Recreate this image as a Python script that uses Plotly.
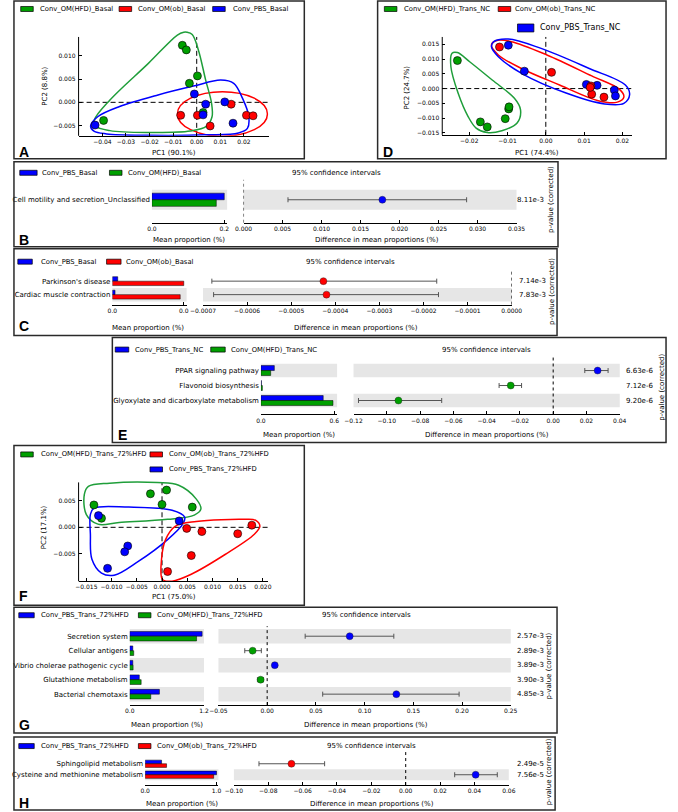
import plotly.graph_objects as go

W, H = 678, 812


def px(x):
    return x / W


def py(y):
    return 1 - y / H


BLUE = "#0000ff"
GREEN = "#00a000"
RED = "#ff0000"
BAND = "#e6e6e6"
FONT = "DejaVu Sans"
LETTER_FONT = "Liberation Sans"

# ---------------- data: panel A (PCA, Basal) ----------------
a_hfd_x = [-0.0061, -0.0044, 0.0003, -0.0031, 0.0027, -0.0395]
a_hfd_y = [0.0123, 0.0113, 0.0057, 0.0041, -0.0022, -0.0039]
a_ob_x = [-0.0068, 0.0003, 0.0057, 0.0146, 0.0211, 0.0239]
a_ob_y = [-0.0028, -0.0028, -0.0051, -0.0004, -0.0028, -0.0029]
a_pbs_x = [-0.0010, 0.0038, 0.0119, 0.0154, 0.0027, -0.0431]
a_pbs_y = [0.0018, -0.0004, 0.0001, -0.0045, -0.0027, -0.0049]
a_hfd_hull_x = [-0.0041, -0.0019, 0.0007, 0.0038, 0.0063, 0.0065, 0.0041, -0.0027, -0.0205,
                -0.0368, -0.0430, -0.0434, -0.0368, -0.0205, -0.0082, -0.0055, -0.0041]
a_hfd_hull_y = [0.0151, 0.0146, 0.0113, 0.0048, -0.0002, -0.0031, -0.0052, -0.0062, -0.0065,
                -0.0061, -0.0051, -0.0038, 0.0005, 0.0084, 0.0145, 0.0151, 0.0151]
a_pbs_hull_x = [-0.0450, -0.0420, -0.0327, -0.0164, -0.0014, 0.0102, 0.0157, 0.0194, 0.0221,
                0.0215, 0.0177, 0.0041, -0.0205, -0.0382, -0.0436, -0.0450]
a_pbs_hull_y = [-0.0051, -0.0031, -0.0009, 0.0016, 0.0035, 0.0048, 0.0041, 0.0009, -0.0031,
                -0.0056, -0.0066, -0.0070, -0.0071, -0.0068, -0.0062, -0.0051]
a_ob_ellipse = [-0.0082, 0.0300, -0.0073, 0.0023]  # x0, x1, y0, y1
a_xticks = [-0.04, -0.03, -0.02, -0.01, 0.00, 0.01, 0.02]
a_yticks = [-0.005, 0.000, 0.005, 0.010]

# ---------------- data: panel D (PCA, Trans_NC) ----------------
d_hfd_x = [-0.0231, -0.0171, -0.0153, -0.0106, -0.0097, -0.0096]
d_hfd_y = [0.0095, -0.0113, -0.0130, -0.0102, -0.0069, -0.0062]
d_pbs_x = [-0.0098, -0.0056, 0.0106, 0.0134, 0.0179, 0.0182]
d_pbs_y = [0.0147, 0.0059, 0.0014, 0.0011, -0.0005, -0.0025]
d_ob_x = [-0.0121, 0.0015, 0.0118, 0.0120, 0.0152, 0.0116]
d_ob_y = [0.0141, 0.0055, 0.0009, -0.0019, -0.0029, 0.0004]
d_hfd_hull_x = [-0.0245, -0.0231, -0.0199, -0.0140, -0.0082, -0.0066, -0.0075, -0.0115,
                -0.0153, -0.0182, -0.0203, -0.0229, -0.0248, -0.0245]
d_hfd_hull_y = [0.0120, 0.0122, 0.0091, 0.0029, -0.0033, -0.0072, -0.0117, -0.0143,
                -0.0149, -0.0134, -0.0095, -0.0016, 0.0074, 0.0120]
d_ob_hull_x = [-0.0142, -0.0128, -0.0090, 0.0003, 0.0120, 0.0192, 0.0204, 0.0187, 0.0137,
               0.0036, -0.0065, -0.0124, -0.0142]
d_ob_hull_y = [0.0148, 0.0163, 0.0159, 0.0114, 0.0043, -0.0002, -0.0029, -0.0046, -0.0041,
               0.0012, 0.0069, 0.0114, 0.0148]
d_pbs_hull_x = [-0.0136, -0.0098, -0.0014, 0.0112, 0.0208, 0.0219, 0.0204, 0.0154, 0.0053,
                -0.0061, -0.0124, -0.0142, -0.0136]
d_pbs_hull_y = [0.0159, 0.0168, 0.0137, 0.0069, 0.0012, -0.0021, -0.0050, -0.0052, -0.0015,
                0.0050, 0.0108, 0.0142, 0.0159]
d_xticks = [-0.02, -0.01, 0.00, 0.01, 0.02]
d_yticks = [-0.015, -0.010, -0.005, 0.000, 0.005, 0.010, 0.015]

# ---------------- data: panel F (PCA, Trans_72%HFD) ----------------
f_hfd_x = [-0.0135, -0.0120, -0.0023, 0.0009, 0.0000, 0.0060]
f_hfd_y = [0.0042, 0.0017, 0.0063, 0.0070, 0.0043, 0.0038]
f_ob_x = [0.0049, 0.0079, 0.0150, 0.0178, 0.0058, 0.0011]
f_ob_y = [-0.0002, -0.0008, -0.0012, 0.0004, -0.0053, -0.0083]
f_pbs_x = [-0.0126, 0.0034, -0.0068, -0.0074, -0.0108]
f_pbs_y = [0.0022, 0.0012, -0.0035, -0.0046, -0.0077]
f_hfd_hull_x = [-0.0146, -0.0104, -0.0009, 0.0033, 0.0068, 0.0077, 0.0064, 0.0011, -0.0085,
                -0.0127, -0.0150, -0.0154, -0.0146]
f_hfd_hull_y = [0.0077, 0.0083, 0.0084, 0.0079, 0.0053, 0.0034, 0.0023, 0.0015, 0.0009,
                0.0006, 0.0024, 0.0062, 0.0077]
f_pbs_hull_x = [-0.0135, -0.0066, 0.0020, 0.0045, 0.0041, 0.0011, -0.0047, -0.0095, -0.0120,
                -0.0139, -0.0142, -0.0142, -0.0135]
f_pbs_hull_y = [0.0036, 0.0038, 0.0032, 0.0019, 0.0006, -0.0023, -0.0064, -0.0090, -0.0086,
                -0.0060, -0.0013, 0.0024, 0.0036]
f_ob_hull_x = [0.0026, 0.0068, 0.0164, 0.0186, 0.0194, 0.0183, 0.0125, 0.0058, 0.0020,
               0.0001, -0.0001, 0.0007, 0.0026]
f_ob_hull_y = [0.0002, 0.0011, 0.0015, 0.0013, 0.0002, -0.0013, -0.0051, -0.0088, -0.0101,
               -0.0098, -0.0060, -0.0023, 0.0002]
f_xticks = [-0.015, -0.010, -0.005, 0.000, 0.005, 0.010, 0.015, 0.020]
f_yticks = [-0.005, 0.000, 0.005]

# ---------------- data: panel B ----------------
b_groups = ["Conv_PBS_Basal", "Conv_OM(HFD)_Basal"]
b_cats = ["Cell motility and secretion_Unclassified"]
b_g1 = [0.200]
b_g2 = [0.178]
b_diff = [0.0178]
b_lo = [0.0057]
b_hi = [0.0286]
b_p = ["8.11e-3"]
b_bar_ticks = [0.0, 0.2]
b_bar_ticktext = ["0.0", "0.2"]
b_ci_ticks = [0.000, 0.005, 0.010, 0.015, 0.020, 0.025, 0.030, 0.035]

# ---------------- data: panel C ----------------
c_groups = ["Conv_PBS_Basal", "Conv_OM(ob)_Basal"]
c_cats = ["Parkinson's disease", "Cardiac muscle contraction"]
c_g1 = [0.0030, 0.0015]
c_g2 = [0.0400, 0.0380]
c_diff = [-0.000427, -0.000420]
c_lo = [-0.000680, -0.000676]
c_hi = [-0.000170, -0.000166]
c_p = ["7.14e-3", "7.83e-3"]
c_bar_ticks = [0.0, 0.040]
c_bar_ticktext = ["0.0", "0.0"]
c_ci_ticks = [-0.0007, -0.0006, -0.0005, -0.0004, -0.0003, -0.0002, -0.0001, 0.0]

# ---------------- data: panel E ----------------
e_groups = ["Conv_PBS_Trans_NC", "Conv_OM(HFD)_Trans_NC"]
e_cats = ["PPAR signaling pathway", "Flavonoid biosynthesis",
          "Glyoxylate and dicarboxylate metabolism"]
e_g1 = [0.11, 0.004, 0.51]
e_g2 = [0.08, 0.012, 0.59]
e_diff = [0.0267, -0.0255, -0.093]
e_lo = [0.019, -0.0325, -0.117]
e_hi = [0.033, -0.019, -0.067]
e_p = ["6.63e-6", "7.12e-6", "9.20e-6"]
e_bar_ticks = [0.0, 0.6]
e_bar_ticktext = ["0.0", "0.6"]
e_ci_ticks = [-0.12, -0.10, -0.08, -0.06, -0.04, -0.02, 0.00, 0.02, 0.04]

# ---------------- data: panel G ----------------
g_groups = ["Conv_PBS_Trans_72%HFD", "Conv_OM(HFD)_Trans_72%HFD"]
g_cats = ["Secretion system", "Cellular antigens", "Vibrio cholerae pathogenic cycle",
          "Glutathione metabolism", "Bacterial chemotaxis"]
g_g1 = [1.17, 0.05, 0.05, 0.155, 0.48]
g_g2 = [1.08, 0.065, 0.055, 0.185, 0.34]
g_diff = [0.0847, -0.0149, 0.0078, -0.0067, 0.1326]
g_lo = [0.039, -0.023, 0.0055, -0.0100, 0.057]
g_hi = [0.130, -0.006, 0.0100, -0.0037, 0.197]
g_p = ["2.57e-3", "2.89e-3", "3.89e-3", "3.90e-3", "4.85e-3"]
g_bar_ticks = [0.0, 1.2]
g_bar_ticktext = ["0.0", "1.2"]
g_ci_ticks = [-0.05, 0.00, 0.05, 0.10, 0.15, 0.20, 0.25]

# ---------------- data: panel H ----------------
h_groups = ["Conv_PBS_Trans_72%HFD", "Conv_OM(ob)_Trans_72%HFD"]
h_cats = ["Sphingolipid metabolism", "Cysteine and methionine metabolism"]
h_g1 = [0.23, 1.00]
h_g2 = [0.30, 0.96]
h_diff = [-0.0665, 0.0407]
h_lo = [-0.0854, 0.0285]
h_hi = [-0.0472, 0.0533]
h_p = ["2.49e-5", "7.56e-5"]
h_bar_ticks = [0.0, 1.0]
h_bar_ticktext = ["0.0", "1.0"]
h_ci_ticks = [-0.10, -0.08, -0.06, -0.04, -0.02, 0.00, 0.02, 0.04, 0.06]

# ---------------- figure ----------------
fig = go.Figure()
lay = dict(width=W, height=H, margin=dict(l=0, r=0, t=0, b=0, pad=0),
           paper_bgcolor="white", plot_bgcolor="rgba(0,0,0,0)", showlegend=False,
           barmode="overlay", font=dict(family=FONT, size=7, color="black"))
shapes = []
ann = []


def axkey(n, k):
    return f"{k}axis" if n == 1 else f"{k}axis{n}"


def ref(n, k):
    return k if n == 1 else f"{k}{n}"


def text(t, x, y, size=7, xanchor="center", angle=0, bold=False, family=FONT):
    ann.append(dict(text=f"<b>{t}</b>" if bold else t, x=px(x), y=py(y), xref="paper",
                    yref="paper", xanchor=xanchor, yanchor="middle", showarrow=False,
                    textangle=angle, font=dict(size=size, family=family, color="black")))


def legend_item(xr, y, color, label, xt, w=13, h=5, size=6.8):
    shapes.append(dict(type="rect", xref="paper", yref="paper", x0=px(xr), x1=px(xr + w),
                       y0=py(y + h / 2), y1=py(y - h / 2), fillcolor=color,
                       line=dict(color="black", width=0.7)))
    text(label, xt, y, size=size, xanchor="left")


def frame(x0, y0, x1, y1):
    shapes.append(dict(type="rect", xref="paper", yref="paper", x0=px(x0), x1=px(x1),
                       y0=py(y1), y1=py(y0), line=dict(color="#2a2a2a", width=1.5),
                       fillcolor="rgba(0,0,0,0)"))


def tick_axis(**kw):
    base = dict(showgrid=False, zeroline=False, ticks="inside", ticklen=3, tickwidth=1,
                tickcolor="black", tickfont=dict(size=6, family=FONT), linecolor="black",
                linewidth=1)
    base.update(kw)
    return base


def pca_panel(n, xdom, ydom, xr, yr, xt, xfmt, yt, yfmt, spine_top, groups, hulls):
    lay[axkey(n, "x")] = tick_axis(domain=[px(xdom[0]), px(xdom[1])], range=xr,
                                   anchor=ref(n, "y"), showline=True, tickvals=xt,
                                   tickformat=xfmt)
    lay[axkey(n, "y")] = tick_axis(domain=[py(ydom[1]), py(ydom[0])], range=yr,
                                   anchor=ref(n, "x"), showline=False, tickvals=yt,
                                   tickformat=yfmt, ticklabelstandoff=2)
    shapes.append(dict(type="line", xref="paper", yref="paper", x0=px(xdom[0]),
                       x1=px(xdom[0]), y0=py(spine_top), y1=py(ydom[1]),
                       line=dict(color="black", width=1)))
    frac = (ydom[1] - spine_top) / (ydom[1] - ydom[0])
    shapes.append(dict(type="line", xref=ref(n, "x"), yref=ref(n, "y") + " domain",
                       x0=0, x1=0, y0=0, y1=frac, layer="below",
                       line=dict(color="black", width=1, dash="5px,3px")))
    shapes.append(dict(type="line", xref=ref(n, "x") + " domain", yref=ref(n, "y"),
                       x0=0, x1=1, y0=0, y1=0, layer="below",
                       line=dict(color="black", width=1, dash="5px,3px")))
    for hx, hy, col in hulls:
        fig.add_trace(go.Scatter(x=hx, y=hy, mode="lines", hoverinfo="skip",
                                 line=dict(color=col, width=1.5, shape="spline", smoothing=1),
                                 xaxis=ref(n, "x"), yaxis=ref(n, "y")))
    for gx, gy, col in groups:
        fig.add_trace(go.Scatter(x=gx, y=gy, mode="markers", hoverinfo="skip",
                                 marker=dict(size=8, color=col,
                                             line=dict(color="black", width=0.6)),
                                 xaxis=ref(n, "x"), yaxis=ref(n, "y")))


def bar_panel(nb, nc, cats, g1, g2, c1, c2, diff, lo, hi, pvals, bar_xdom, ci_xdom, ydom,
              row0, row_h, bar_range, bar_ticks, bar_ticktext, ci_range, ci_ticks, ci_fmt,
              pval_x, band_half=0.5):
    rows = list(range(len(cats)))
    yr = [(ydom[1] - row0) / row_h, (ydom[0] - row0) / row_h]
    ydomain = [py(ydom[1]), py(ydom[0])]
    lay[axkey(nb, "x")] = tick_axis(domain=[px(bar_xdom[0]), px(bar_xdom[1])],
                                    range=bar_range, anchor=ref(nb, "y"), showline=True,
                                    tickvals=bar_ticks, ticktext=bar_ticktext)
    lay[axkey(nb, "y")] = dict(domain=ydomain, range=yr, anchor=ref(nb, "x"),
                               showline=False, showgrid=False, zeroline=False, ticks="",
                               tickvals=rows, ticktext=cats,
                               tickfont=dict(size=7, family=FONT), ticklabelstandoff=1)
    lay[axkey(nc, "x")] = tick_axis(domain=[px(ci_xdom[0]), px(ci_xdom[1])],
                                    range=ci_range, anchor=ref(nc, "y"), showline=True,
                                    tickvals=ci_ticks, tickformat=ci_fmt)
    lay[axkey(nc, "y")] = dict(domain=ydomain, range=yr, anchor=ref(nc, "x"),
                               showline=False, showgrid=False, zeroline=False, ticks="",
                               showticklabels=False)
    n = len(cats)
    for i in rows:
        if (n - 1 - i) % 2 == 0:
            for a in (nb, nc):
                shapes.append(dict(type="rect", xref=ref(a, "x") + " domain",
                                   yref=ref(a, "y"), x0=0, x1=1, y0=i - band_half,
                                   y1=i + band_half, fillcolor=BAND, line=dict(width=0),
                                   layer="below"))
    shapes.append(dict(type="line", xref=ref(nc, "x"), yref=ref(nc, "y") + " domain",
                       x0=0, x1=0, y0=0, y1=1, layer="below",
                       line=dict(color="black", width=1, dash="3px,3px")))
    fig.add_trace(go.Bar(x=g1, y=rows, orientation="h", width=0.33, offset=-0.33,
                         marker=dict(color=c1, line=dict(color="black", width=0.5)),
                         xaxis=ref(nb, "x"), yaxis=ref(nb, "y"), hoverinfo="skip"))
    fig.add_trace(go.Bar(x=g2, y=rows, orientation="h", width=0.33, offset=0.0,
                         marker=dict(color=c2, line=dict(color="black", width=0.5)),
                         xaxis=ref(nb, "x"), yaxis=ref(nb, "y"), hoverinfo="skip"))
    cols = [c1 if d > 0 else c2 for d in diff]
    fig.add_trace(go.Scatter(
        x=diff, y=rows, mode="markers", hoverinfo="skip",
        marker=dict(size=7, color=cols, line=dict(color="#202020", width=0.4)),
        error_x=dict(type="data", symmetric=False,
                     array=[h - d for h, d in zip(hi, diff)],
                     arrayminus=[d - l for d, l in zip(diff, lo)],
                     color="#555555", thickness=1, width=2.5),
        xaxis=ref(nc, "x"), yaxis=ref(nc, "y")))
    for i, p in zip(rows, pvals):
        ann.append(dict(text=p, x=px(pval_x), y=i, xref="paper", yref=ref(nc, "y"),
                        xanchor="left", yanchor="middle", showarrow=False,
                        font=dict(size=7, family=FONT, color="black")))


# ---- PCA panels ----
pca_panel(1, (68, 265), (28, 136), [-0.0501, 0.0305], [-0.00722, 0.01603],
          a_xticks, ".2f", a_yticks, ".3f", 37,
          [(a_hfd_x, a_hfd_y, GREEN), (a_ob_x, a_ob_y, RED), (a_pbs_x, a_pbs_y, BLUE)],
          [(a_hfd_hull_x, a_hfd_hull_y, "#1f9e3a"), (a_pbs_hull_x, a_pbs_hull_y, BLUE)])
shapes.append(dict(type="circle", xref="x", yref="y", x0=a_ob_ellipse[0], x1=a_ob_ellipse[1],
                   y0=a_ob_ellipse[2], y1=a_ob_ellipse[3], layer="below",
                   line=dict(color=RED, width=1.5)))

pca_panel(2, (445, 642), (37, 135), [-0.02706, 0.0226], [-0.01569, 0.0175],
          d_xticks, ".2f", d_yticks, ".3f", 37,
          [(d_hfd_x, d_hfd_y, GREEN), (d_pbs_x, d_pbs_y, BLUE), (d_ob_x, d_ob_y, RED)],
          [(d_hfd_hull_x, d_hfd_hull_y, "#1f9e3a"), (d_ob_hull_x, d_ob_hull_y, RED),
           (d_pbs_hull_x, d_pbs_hull_y, BLUE)])

pca_panel(3, (68, 264), (481, 582), [-0.01654, 0.02094], [-0.01013, 0.00881],
          f_xticks, ".3f", f_yticks, ".3f", 483,
          [(f_hfd_x, f_hfd_y, GREEN), (f_ob_x, f_ob_y, RED), (f_pbs_x, f_pbs_y, BLUE)],
          [(f_hfd_hull_x, f_hfd_hull_y, "#1f9e3a"), (f_pbs_hull_x, f_pbs_hull_y, BLUE),
           (f_ob_hull_x, f_ob_hull_y, RED)])

# ---- bar / CI panels ----
bar_panel(4, 5, b_cats, b_g1, b_g2, BLUE, GREEN, b_diff, b_lo, b_hi, b_p,
          (144, 222), (239, 522), (180, 223), 200, 20, [0, 0.208], b_bar_ticks,
          b_bar_ticktext, [0, 0.035], b_ci_ticks, ".3f", 520)
bar_panel(6, 7, c_cats, c_g1, c_g2, BLUE, RED, c_diff, c_lo, c_hi, c_p,
          (103, 180), (197, 517), (272, 305), 281.5, 13.5, [0, 0.0416], c_bar_ticks,
          c_bar_ticktext, [-0.0007, 0.0], c_ci_ticks, ".4f", 522)
bar_panel(8, 9, e_cats, e_g1, e_g2, BLUE, GREEN, e_diff, e_lo, e_hi, e_p,
          (257, 336), (353, 629), (358, 415), 371, 15, [0, 0.6237], e_bar_ticks,
          e_bar_ticktext, [-0.12, 0.04], e_ci_ticks, ".2f", 633, band_half=0.45)
bar_panel(10, 11, g_cats, g_g1, g_g2, BLUE, GREEN, g_diff, g_lo, g_hi, g_p,
          (121, 198), (213, 516), (627, 706), 637, 14.5, [0, 1.2], g_bar_ticks,
          g_bar_ticktext, [-0.05, 0.25], g_ci_ticks, ".2f", 520)
bar_panel(12, 13, h_cats, h_g1, h_g2, BLUE, RED, h_diff, h_lo, h_hi, h_p,
          (137, 213), (229, 514), (753, 786), 764.7, 11, [0, 1.027], h_bar_ticks,
          h_bar_ticktext, [-0.10, 0.06], h_ci_ticks, ".2f", 520)

# ---- frames ----
frame(1, 1, 302, 159)
frame(378, 1, 677, 159)
frame(1, 162, 565, 247)
frame(1, 249, 564, 336)
frame(103, 338, 677, 443)
frame(1, 446, 302, 606)
frame(1, 608, 564, 734)
frame(1, 738, 562, 811)

# ---- legends ----
legend_item(8, 9, GREEN, "Conv_OM(HFD)_Basal", 26)
legend_item(110, 9, RED, "Conv_OM(ob)_Basal", 128)
legend_item(207, 9, BLUE, "Conv_PBS_Basal", 226)

legend_item(385, 9, GREEN, "Conv_OM(HFD)_Trans_NC", 403)
legend_item(503, 9, RED, "Conv_OM(ob)_Trans_NC", 518)
legend_item(523, 28, BLUE, "Conv_PBS_Trans_NC", 544, w=17, h=8, size=8)

legend_item(8, 455, GREEN, "Conv_OM(HFD)_Trans_72%HFD", 27)
legend_item(142, 455, RED, "Conv_OM(ob)_Trans_72%HFD", 160)
legend_item(142, 470, BLUE, "Conv_PBS_Trans_72%HFD", 160)

legend_item(7, 173, BLUE, b_groups[0], 28, w=18, h=5)
legend_item(100, 173, GREEN, b_groups[1], 117)
legend_item(5, 262, BLUE, c_groups[0], 27, w=15)
legend_item(97, 262, RED, c_groups[1], 115, w=15)
legend_item(106, 350, BLUE, e_groups[0], 124, w=14)
legend_item(205, 350, GREEN, e_groups[1], 224, w=15)
legend_item(6, 616, BLUE, g_groups[0], 27, w=16)
legend_item(130, 616, GREEN, g_groups[1], 147)
legend_item(6, 747, BLUE, h_groups[0], 27, w=16)
legend_item(130, 747, RED, h_groups[1], 147)

# ---- titles / axis labels ----
text("PC1 (90.1%)", 167, 153)
text("PC2 (8.8%)", 33, 86, angle=-90)
text("PC1 (74.4%)", 543, 153)
text("PC2 (24.7%)", 408, 88, angle=-90)
text("PC1 (75.0%)", 167, 598)
text("PC2 (17.1%)", 33, 528, angle=-90)

for cx_m, cx_d, y_t, cx_c, y_c in [(182, 377, 240, 335, 173), (140, 356, 328, 350, 262),
                                   (297, 491, 436, 491, 350), (160, 366, 726, 366, 616),
                                   (175, 372, 805, 372, 747)]:
    text("Mean proportion (%)", cx_m, y_t)
    text("Difference in mean proportions (%)", cx_d, y_t)
    text("95% confidence intervals", cx_c, y_c)

for xx, yy in [(558, 200), (558, 292), (672, 388), (556, 667), (556, 773)]:
    text("p-value (corrected)", xx, yy, angle=-90)

for letter, xx, yy in [("A", 4, 152), ("B", 4, 240), ("C", 4, 326), ("D", 381, 152),
                       ("E", 107, 436), ("F", 4, 597), ("G", 4, 726), ("H", 4, 804)]:
    text(letter, xx, yy, size=14, xanchor="left", bold=True, family=LETTER_FONT)

lay["shapes"] = shapes
lay["annotations"] = ann
fig.update_layout(**lay)
fig.write_html(
    "out.html",
    config={"displayModeBar": False},
    post_script=(
        "document.documentElement.style.overflow='hidden';"
        "document.body.style.margin='0px';"
        "document.body.style.overflow='hidden';"
    ),
)
